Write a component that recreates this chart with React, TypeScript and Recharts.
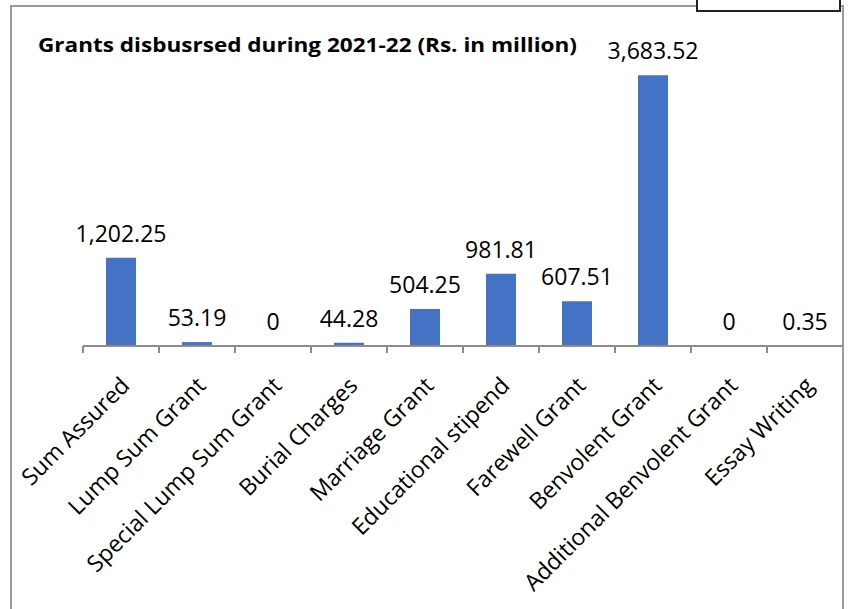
import { ComposedChart, Bar, Line, XAxis, YAxis, LabelList } from 'recharts'

const categories = [
  'Sum Assured',
  'Lump Sum Grant',
  'Special Lump Sum Grant',
  'Burial Charges',
  'Marriage Grant',
  'Educational stipend',
  'Farewell Grant',
  'Benvolent Grant',
  'Additional Benvolent Grant',
  'Essay Writing',
]
const amounts = [1202.25, 53.19, 0, 44.28, 504.25, 981.81, 607.51, 3683.52, 0, 0.35]

const data = categories.map((name, i) => ({ name, value: amounts[i] }))

const FONT = '"Open Sans", "Noto Sans", sans-serif'

const fmt = (v: number) => v.toLocaleString('en-US', { maximumFractionDigits: 2 })

function CategoryTick(props: any) {
  const { x, y, payload } = props
  const half = payload?.offset || 38
  const tx = x + 10
  const ty = y + 41
  return (
    <g>
      <line x1={x - half} y1={y} x2={x - half} y2={y + 7} stroke="#8c8c8c" strokeWidth={2} />
      <text
        x={tx}
        y={ty}
        transform={`rotate(-45, ${tx}, ${ty})`}
        textAnchor="end"
        fontFamily={FONT}
        fontSize={23}
        fill="#000"
      >
        {payload.value}
      </text>
    </g>
  )
}

export default function App() {
  return (
    <div style={{ position: 'absolute', left: 0, top: 0, width: 848, height: 609, overflow: 'hidden', background: '#fff' }}>
      {/* outer frame, bottom edge runs off the page */}
      <div style={{ position: 'absolute', left: 10, top: 5, width: 830, height: 640, border: '2px solid #9a9a9a' }} />
      <div style={{ position: 'absolute', left: 696, top: -10, width: 141, height: 18, border: '2px solid #222', background: '#fff' }} />

      <svg width={848} height={609} style={{ position: 'absolute', left: 0, top: 0 }}>
        <text x={38} y={52} fontFamily={FONT} fontWeight={700} fontSize={20} textLength={539} lengthAdjust="spacingAndGlyphs" fill="#000">
          Grants disbusrsed during 2021-22 (Rs. in million)
        </text>
      </svg>

      <div style={{ position: 'absolute', left: 0, top: 0 }}>
        <ComposedChart width={848} height={609} data={data} margin={{ top: 52, right: 5, left: 83, bottom: 0 }}>
          <YAxis hide domain={[0, 4000]} />
          <XAxis
            dataKey="name"
            height={263}
            interval={0}
            tickSize={0}
            tickMargin={0}
            axisLine={{ stroke: '#8c8c8c', strokeWidth: 2 }}
            tickLine={false}
            tick={<CategoryTick />}
          />
          <Bar dataKey="value" fill="#4472C4" barSize={30} isAnimationActive={false} />
          {/* invisible line carries the value labels so zero values get one too */}
          <Line dataKey="value" stroke="none" dot={false} activeDot={false} isAnimationActive={false}>
            <LabelList
              dataKey="value"
              position="top"
              offset={16}
              formatter={(v: any) => fmt(Number(v))}
              style={{ fontFamily: FONT, fontSize: 23, fill: '#000' }}
            />
          </Line>
        </ComposedChart>
      </div>
    </div>
  )
}
